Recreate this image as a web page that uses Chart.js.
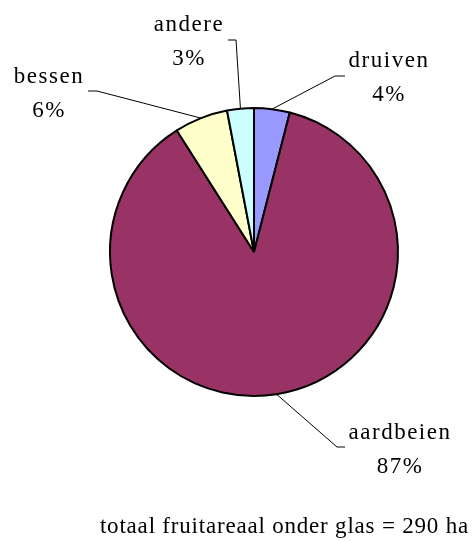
<!DOCTYPE html>
<html lang="nl">
<head>
    <meta charset="UTF-8" />
    <title>Fruitareaal onder glas</title>
    <script src="https://cdn.jsdelivr.net/npm/chart.js"></script>
    <style>
        body {
            margin: 0;
            padding: 0;
            background: #fff;
        }

        .wrap {
            position: relative;
            width: 472px;
            height: 541px;
        }
    </style>
</head>
<body>
    <div class="wrap">
        <canvas id="pie"></canvas>
    </div>

    <script>
        // gegevens
        const categories = ['druiven', 'aardbeien', 'bessen', 'andere'];
        const shares = [4, 87, 6, 3];
        const colors = ['#9999FF', '#993366', '#FFFFCC', '#CCFFFF'];
        const footerText = 'totaal fruitareaal onder glas = 290 ha';

        // plaats van de labels (knik van de lijn + tekstmidden)
        const labelLayout = [
            { elbow: [335, 76], end: [345, 76], text: [389, 61] },
            { elbow: [337, 447], end: [345, 447], text: [400, 433] },
            { elbow: [97, 91], end: [88, 91], text: [49, 77] },
            { elbow: [236, 40], end: [228, 40], text: [189, 25] }
        ];

        const fontFamily = '"Liberation Serif", "Times New Roman", serif';

        const labelPlugin = {
            id: 'leaderLabels',
            afterDraw(chart) {
                const ctx = chart.ctx;
                const arcs = chart.getDatasetMeta(0).data;
                ctx.save();
                arcs.forEach((arc, i) => {
                    const p = arc.getProps(['x', 'y', 'startAngle', 'endAngle', 'outerRadius'], true);
                    const mid = (p.startAngle + p.endAngle) / 2;
                    const sx = p.x + Math.cos(mid) * p.outerRadius;
                    const sy = p.y + Math.sin(mid) * p.outerRadius;
                    const lay = labelLayout[i];

                    ctx.strokeStyle = '#000';
                    ctx.lineWidth = 1;
                    ctx.beginPath();
                    ctx.moveTo(sx, sy);
                    ctx.lineTo(lay.elbow[0], lay.elbow[1]);
                    ctx.lineTo(lay.end[0], lay.end[1]);
                    ctx.stroke();

                    ctx.fillStyle = '#000';
                    ctx.font = '23px ' + fontFamily;
                    ctx.letterSpacing = '1.5px';
                    ctx.textAlign = 'center';
                    ctx.textBaseline = 'middle';
                    ctx.fillText(categories[i], lay.text[0], lay.text[1]);
                    ctx.fillText(shares[i] + '%', lay.text[0], lay.text[1] + 34);
                });

                ctx.textAlign = 'right';
                ctx.textBaseline = 'alphabetic';
                ctx.font = '23px ' + fontFamily;
                ctx.letterSpacing = '0.8px';
                ctx.fillText(footerText, 469, 533);
                ctx.restore();
            }
        };

        new Chart(document.getElementById('pie').getContext('2d'), {
            type: 'pie',
            data: {
                labels: categories,
                datasets: [{
                    data: shares,
                    backgroundColor: colors,
                    borderColor: '#000',
                    borderWidth: 2
                }]
            },
            options: {
                responsive: true,
                maintainAspectRatio: false,
                animation: false,
                radius: 144,
                layout: {
                    padding: { left: 110, top: 108, right: 74, bottom: 145 }
                },
                plugins: {
                    legend: { display: false },
                    tooltip: { enabled: false }
                }
            },
            plugins: [labelPlugin]
        });
    </script>
</body>
</html>
